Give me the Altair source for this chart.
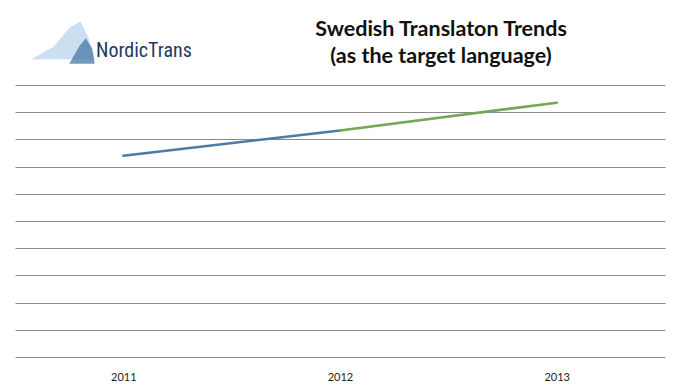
import altair as alt
import pandas as pd

years = ["2011", "2012", "2013"]
series_names = ["Series 1", "Series 1", "Series 2", "Series 2"]
series_years = ["2011", "2012", "2012", "2013"]
series_values = [7.40, 8.33, 8.33, 9.35]
grid_values = [0, 1, 2, 3, 4, 5, 6, 7, 8, 9, 10]
title_lines = ["Swedish Translaton Trends", "(as the target language)"]
logo_text = "NordicTrans"

df = pd.DataFrame({"series": series_names, "year": series_years, "value": series_values})

lines = alt.Chart(df).mark_line(strokeWidth=2.6, strokeCap="round").encode(
    x=alt.X("year:O", sort=years, scale=alt.Scale(type="point", padding=0.5, domain=years),
            axis=alt.Axis(title=None, labelAngle=0, ticks=False, domain=False,
                          labelPadding=14, labelFont="Lato", labelFontSize=11,
                          labelColor="#222222", grid=False)),
    y=alt.Y("value:Q", scale=alt.Scale(domain=[0, 10], nice=False, zero=True),
            axis=alt.Axis(title=None, labels=False, ticks=False, domain=False,
                          values=grid_values, grid=True, gridColor="#8a8a8a",
                          gridWidth=1.2)),
    color=alt.Color("series:N", scale=alt.Scale(domain=["Series 1", "Series 2"],
                                                range=["#4c7ba3", "#74a758"]),
                    legend=None),
    detail="series:N",
)

one = pd.DataFrame({"t": [logo_text]})

logo = alt.Chart(one).mark_text(
    font="Roboto Condensed, DejaVu Sans Condensed, Roboto, sans-serif",
    fontSize=20, color="#1d3a5c", align="left", baseline="alphabetic"
).encode(x=alt.value(81), y=alt.value(-28), text="t:N")

berg_light = alt.Chart(one).mark_point(
    shape="M -1 0.2 L -0.3 -0.2 L 0.2 -0.8 L 0.55 -1 L 0.8 -0.5 L 1 0.2 Z",
    filled=True, fill="#c3d9ee", opacity=0.85, strokeWidth=0, size=4000
).encode(x=alt.value(48), y=alt.value(-32))

berg_dark = alt.Chart(one).mark_point(
    shape="M -1 1 L -0.2 -0.4 L 0.3 -1 L 0.8 -0.2 L 1 1 Z",
    filled=True, fill="#4a78a6", opacity=0.75, strokeWidth=0, size=650
).encode(x=alt.value(67), y=alt.value(-34))

t1 = alt.Chart(pd.DataFrame({"t": [title_lines[0]]})).mark_text(
    font="Lato", fontSize=21.5, fontWeight="bold", color="#111111",
    align="center", baseline="alphabetic"
).encode(x=alt.value(426), y=alt.value(-49), text="t:N")

t2 = alt.Chart(pd.DataFrame({"t": [title_lines[1]]})).mark_text(
    font="Lato", fontSize=21.5, fontWeight="bold", color="#111111",
    align="center", baseline="alphabetic"
).encode(x=alt.value(426), y=alt.value(-22), text="t:N")

chart = alt.layer(berg_light, berg_dark, logo, t1, t2, lines).properties(
    width=650, height=272,
    padding={"left": 7, "top": 77, "right": 8, "bottom": 30},
    autosize=alt.AutoSizeParams(type="none"),
    background="white",
).configure_view(strokeWidth=0, stroke="transparent")

chart.save("out.html", embed_options={"renderer": "svg", "actions": False})
